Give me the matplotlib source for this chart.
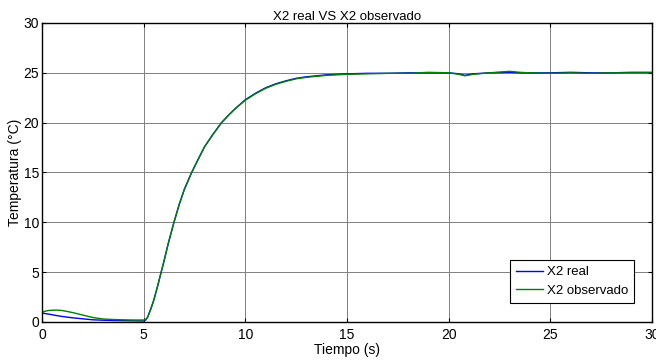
import matplotlib
matplotlib.use("Agg")
import matplotlib.pyplot as plt

plt.rcParams["font.family"] = ["Liberation Sans", "DejaVu Sans"]

# values
tiempo = [0, 0.3, 0.7, 1.0, 1.5, 2.0, 2.5, 3.0, 3.5, 4.0, 4.5, 5.0, 5.1, 5.2, 5.35, 5.5,
          5.7, 5.86, 6.0, 6.2, 6.49, 6.75, 7.0, 7.36, 7.7, 8.0, 8.4, 8.83, 9.2, 9.5, 10.0,
          10.5, 11.0, 11.5, 12.0, 12.5, 13.0, 14.0, 15.0, 16.0, 17.0, 18.0, 19.0, 20.0,
          20.5, 20.8, 21.2, 22.0, 23.0, 23.5, 24.0, 25.0, 26.0, 27.0, 28.0, 29.0, 30.0]
x2_real = [0.9, 0.8, 0.65, 0.55, 0.42, 0.32, 0.22, 0.18, 0.15, 0.13, 0.12, 0.1, 0.2, 0.5, 1.3, 2.2,
           3.7, 5.0, 6.1, 7.8, 10.0, 11.8, 13.3, 15.0, 16.4, 17.6, 18.8, 20.0, 20.8, 21.4, 22.3,
           22.95, 23.5, 23.9, 24.2, 24.45, 24.6, 24.8, 24.9, 24.95, 24.95, 25.0, 25.0, 25.0,
           24.9, 24.75, 24.9, 25.0, 25.05, 25.0, 25.0, 25.0, 25.05, 25.0, 25.0, 25.05, 25.05]
x2_obs = [1.0, 1.15, 1.2, 1.15, 0.95, 0.7, 0.45, 0.3, 0.25, 0.22, 0.2, 0.2, 0.25, 0.5, 1.3, 2.2,
          3.7, 5.0, 6.1, 7.8, 10.0, 11.8, 13.3, 15.0, 16.4, 17.6, 18.8, 20.0, 20.8, 21.4, 22.25,
          22.9, 23.45, 23.85, 24.15, 24.4, 24.55, 24.75, 24.85, 24.9, 24.95, 24.95, 25.05, 25.0,
          24.85, 24.7, 24.85, 25.0, 25.15, 25.05, 25.0, 24.95, 25.0, 24.95, 25.0, 25.0, 25.0]

x_ticks = [0, 5, 10, 15, 20, 25, 30]
y_ticks = [0, 5, 10, 15, 20, 25, 30]


def main():
    fig = plt.figure(figsize=(6.56, 3.62), dpi=100)
    ax = fig.add_axes([0.064, 0.1105, 0.9299, 0.826])

    ax.plot(tiempo, x2_real, color="#0000ff", lw=1.0, label="X2 real")
    ax.plot(tiempo, x2_obs, color="#008000", lw=1.0, label="X2 observado")

    ax.set_xlim(0, 30)
    ax.set_ylim(0, 30)
    ax.set_xticks(x_ticks)
    ax.set_yticks(y_ticks)
    ax.tick_params(direction="in", length=3, width=0.8, labelsize=10,
                   top=True, right=True, pad=2)
    ax.tick_params(axis="x", pad=4)
    ax.grid(True, color="#808080", lw=0.7)
    for s in ax.spines.values():
        s.set_linewidth(1.0)
        s.set_color("black")

    ax.set_title("X2 real VS X2 observado", fontsize=9.5, pad=2)
    ax.set_xlabel("Tiempo (s)", fontsize=10, labelpad=1)
    ax.set_ylabel("Temperatura (°C)", fontsize=10, labelpad=1)

    leg = ax.legend(loc="lower right", bbox_to_anchor=(0.97, 0.065), fontsize=9.5,
                    fancybox=False, framealpha=1, edgecolor="black",
                    handlelength=2.0, handletextpad=0.3, borderpad=0.45,
                    labelspacing=0.45, borderaxespad=0)
    leg.get_frame().set_linewidth(0.8)

    fig.savefig("out.png", dpi=100)
    plt.close(fig)


if __name__ == "__main__":
    main()
